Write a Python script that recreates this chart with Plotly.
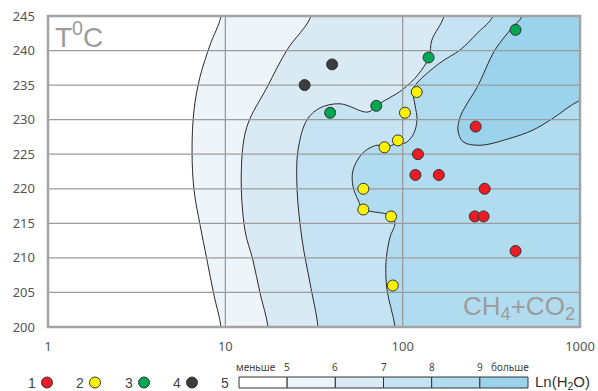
import plotly.graph_objects as go

# ---- data -------------------------------------------------------------
x_ticks = [1, 10, 100, 1000]
y_ticks = [200, 205, 210, 215, 220, 225, 230, 235, 240, 245]

# group 1 (red)
red_x = [258, 122, 118, 160, 290, 255, 286, 433]
red_y = [229, 225, 222, 222, 220, 216, 216, 211]
# group 2 (yellow)
yellow_x = [120, 103, 94, 79, 60, 60, 86, 88]
yellow_y = [234, 231, 227, 226, 220, 217, 216, 206]
# group 3 (green)
green_x = [39, 71, 140, 433]
green_y = [231, 232, 239, 243]
# group 4 (dark grey)
dark_x = [40, 28]
dark_y = [238, 235]

# Ln(H2O) isolines, listed from the top edge downwards
iso5_x = [9.45, 8.20, 7.20, 6.66, 6.49, 6.66, 7.20, 7.88, 8.63, 9.45]
iso5_y = [245, 240.8, 236.2, 231.4, 225.6, 219.8, 214.8, 209.7, 204.6, 200]

iso6_x = [30.4, 22.3, 17.2, 13.2, 12.3, 12.9, 14.3, 15.7, 17.4]
iso6_y = [245, 240.1, 234.7, 228.9, 222.3, 214.0, 209.7, 204.9, 200]

iso7_x = [171, 146, 141, 122, 99.2, 71.7, 63.8, 44.3, 34.2, 28.9, 25.7, 25.4, 27.1, 30.0, 33.3]
iso7_y = [245, 241.5, 239.1, 236.5, 234.3, 232.1, 231.1, 232.3, 231.7, 230.0, 225.6, 219.8, 212.6, 206.4, 200]

iso8_x = [323, 263, 211, 162, 120.5, 114.4, 117.4, 120.5, 114.4, 103, 94.1, 79.5, 71.7,
          59.7, 52.5, 52.5, 56.0, 59.7, 85.9, 90.5, 84.8, 80.5, 81.6, 90.5]
iso8_y = [245, 242.5, 240.1, 238.2, 235.3, 234.3, 232.1, 230.0, 227.8, 226.6, 226.6, 226.0, 226.3,
          225.2, 222.7, 220.3, 218.4, 217.1, 216.1, 215.0, 213.0, 209.3, 205.4, 200]

iso9_x = [471, 414, 332, 263, 228, 211, 205, 219, 273, 403, 543, 704, 1000]
iso9_y = [245, 243.3, 240.1, 234.7, 232.1, 230.4, 228.5, 226.8, 226.3, 227.3, 228.5, 230.2, 232.8]

scale_labels = ["меньше", "5", "6", "7", "8", "9", "больше"]
band_colors = ["#ffffff", "#edf5fb", "#daeaf5", "#c6e3f3", "#b1dcef", "#9bd3ec"]

# ---- layout geometry ---------------------------------------------------
W, H = 598, 391
PL, PR, PT, PB = 48, 580, 16, 327          # plot area in pixels
X_RANGE = [0, 3]
Y_RANGE = [200, 245]

def px(x):
    return x / W

def py(y):
    return 1 - y / H

fig = go.Figure()

# ---- filled Ln(H2O) bands ----------------------------------------------
def band_polygon(xs, ys, ends_right=False):
    # close the isoline around the right part of the plot, well outside the axes
    top = Y_RANGE[1] + 3
    bot = Y_RANGE[0] - 3
    far = 10 ** (X_RANGE[1] + 0.8)
    if ends_right:
        px_ = [xs[0]] + list(xs) + [xs[-1] * 1.6, far, far, xs[0]]
        py_ = [top] + list(ys) + [ys[-1] + 1.5, ys[-1] + 4, top, top]
    else:
        px_ = [xs[0]] + list(xs) + [xs[-1], far, far, xs[0]]
        py_ = [top] + list(ys) + [bot, bot, top, top]
    return px_, py_

bands = [
    (iso5_x, iso5_y, band_colors[1], False),
    (iso6_x, iso6_y, band_colors[2], False),
    (iso7_x, iso7_y, band_colors[3], False),
    (iso8_x, iso8_y, band_colors[4], False),
    (iso9_x, iso9_y, band_colors[5], True),
]
for xs, ys, col, right in bands:
    bx, by = band_polygon(xs, ys, right)
    fig.add_trace(go.Scatter(
        x=bx, y=by, mode="lines", fill="toself", fillcolor=col,
        line=dict(color="#2b2b2b", width=1, shape="spline", smoothing=1.0),
        hoverinfo="skip", showlegend=False,
    ))

# ---- grid lines (drawn over the bands, under the points) ---------------
gx, gy = [], []
for yv in y_ticks[1:-1]:
    gx += [10 ** X_RANGE[0], 10 ** X_RANGE[1], None]
    gy += [yv, yv, None]
for xv in x_ticks[1:-1]:
    gx += [xv, xv, None]
    gy += [Y_RANGE[0], Y_RANGE[1], None]
fig.add_trace(go.Scatter(x=gx, y=gy, mode="lines",
                         line=dict(color="#9b9b9b", width=1.3),
                         hoverinfo="skip", showlegend=False))

# ---- sample points ------------------------------------------------------
groups = [
    ("1", red_x, red_y, "#ed1c24"),
    ("2", yellow_x, yellow_y, "#fff200"),
    ("3", green_x, green_y, "#00a651"),
    ("4", dark_x, dark_y, "#3d3d3d"),
]
for name, xs, ys, col in groups:
    fig.add_trace(go.Scatter(
        x=xs, y=ys, mode="markers", name=name,
        marker=dict(size=11, color=col, line=dict(color="#333333", width=1)),
        showlegend=False,
    ))

# ---- axes ----------------------------------------------------------------
tick_font = dict(family="Noto Sans", size=13, color="#555555")
fig.update_xaxes(type="log", range=X_RANGE, domain=[px(PL), px(PR)],
                 tickvals=x_ticks, ticktext=[str(v) for v in x_ticks],
                 showgrid=False, zeroline=False, showline=False, ticks="",
                 tickfont=tick_font, ticklabelstandoff=10, automargin=False)
fig.update_yaxes(range=Y_RANGE, domain=[py(PB), py(PT)],
                 tickvals=y_ticks, showgrid=False, zeroline=False,
                 showline=False, ticks="", tickfont=tick_font,
                 ticklabelstandoff=12, automargin=False)

shapes = []
# plot frame
shapes.append(dict(type="rect", xref="x domain", yref="y domain",
                   x0=0, x1=1, y0=0, y1=1, layer="above",
                   line=dict(color="#a3a3a3", width=2.5)))

annotations = []
# corner captions
annotations.append(dict(text="T<sup>0</sup>C", xref="paper", yref="paper",
                        x=px(53), y=py(15), xanchor="left", yanchor="top",
                        showarrow=False,
                        font=dict(family="Liberation Sans", size=28, color="#9c9c9c")))
annotations.append(dict(text="CH<sub>4</sub>+CO<sub>2</sub>", xref="paper", yref="paper",
                        x=px(577), y=py(326), xanchor="right", yanchor="bottom",
                        showarrow=False,
                        font=dict(family="Liberation Sans", size=26, color="#9c9c9c")))

# ---- bottom legend -------------------------------------------------------
leg_y = 382.5
label_font = dict(family="Liberation Sans", size=14, color="#444444")
leg_num_x = [32, 80, 129, 177]
for (name, _, _, col), lx in zip(groups, leg_num_x):
    annotations.append(dict(text=name, xref="paper", yref="paper",
                            x=px(lx), y=py(leg_y), xanchor="center", yanchor="middle",
                            showarrow=False, borderpad=0, font=label_font))
    shapes.append(dict(type="circle", xref="paper", yref="paper",
                       xsizemode="pixel", ysizemode="pixel",
                       xanchor=px(lx + 15), yanchor=py(leg_y),
                       x0=-5.5, x1=5.5, y0=-5.5, y1=5.5,
                       fillcolor=col, line=dict(color="#333333", width=1)))
annotations.append(dict(text="5", xref="paper", yref="paper",
                        x=px(225), y=py(leg_y), xanchor="center", yanchor="middle",
                        showarrow=False, borderpad=0, font=label_font))

# colour scale
sx0, sx1, sy0, sy1 = 239, 528, 377, 388
seg = (sx1 - sx0) / len(band_colors)
for i, col in enumerate(band_colors):
    shapes.append(dict(type="rect", xref="paper", yref="paper",
                       x0=px(sx0 + i * seg), x1=px(sx0 + (i + 1) * seg),
                       y0=py(sy1), y1=py(sy0), fillcolor=col,
                       line=dict(color="#333333", width=1)))
small_font = dict(family="Noto Sans", size=10, color="#444444")
for i, lab in enumerate(scale_labels):
    if i == 0:
        xx = sx0 + seg / 2 - 7
    elif i == len(scale_labels) - 1:
        xx = sx1 - seg / 2 + 6
    else:
        xx = sx0 + i * seg
    annotations.append(dict(text=lab, xref="paper", yref="paper",
                            x=px(xx), y=py(sy0 - 1), xanchor="center", yanchor="bottom",
                            showarrow=False, font=small_font))
annotations.append(dict(text="Ln(H<sub>2</sub>O)", xref="paper", yref="paper",
                        x=px(534), y=py(leg_y), xanchor="left", yanchor="middle",
                        showarrow=False, borderpad=0,
                        font=dict(family="Liberation Sans", size=15, color="#333333")))

fig.update_layout(
    width=W, height=H,
    margin=dict(l=0, r=0, t=0, b=0),
    paper_bgcolor="white", plot_bgcolor="white",
    shapes=shapes, annotations=annotations,
    showlegend=False,
)

fig.write_html("out.html")
